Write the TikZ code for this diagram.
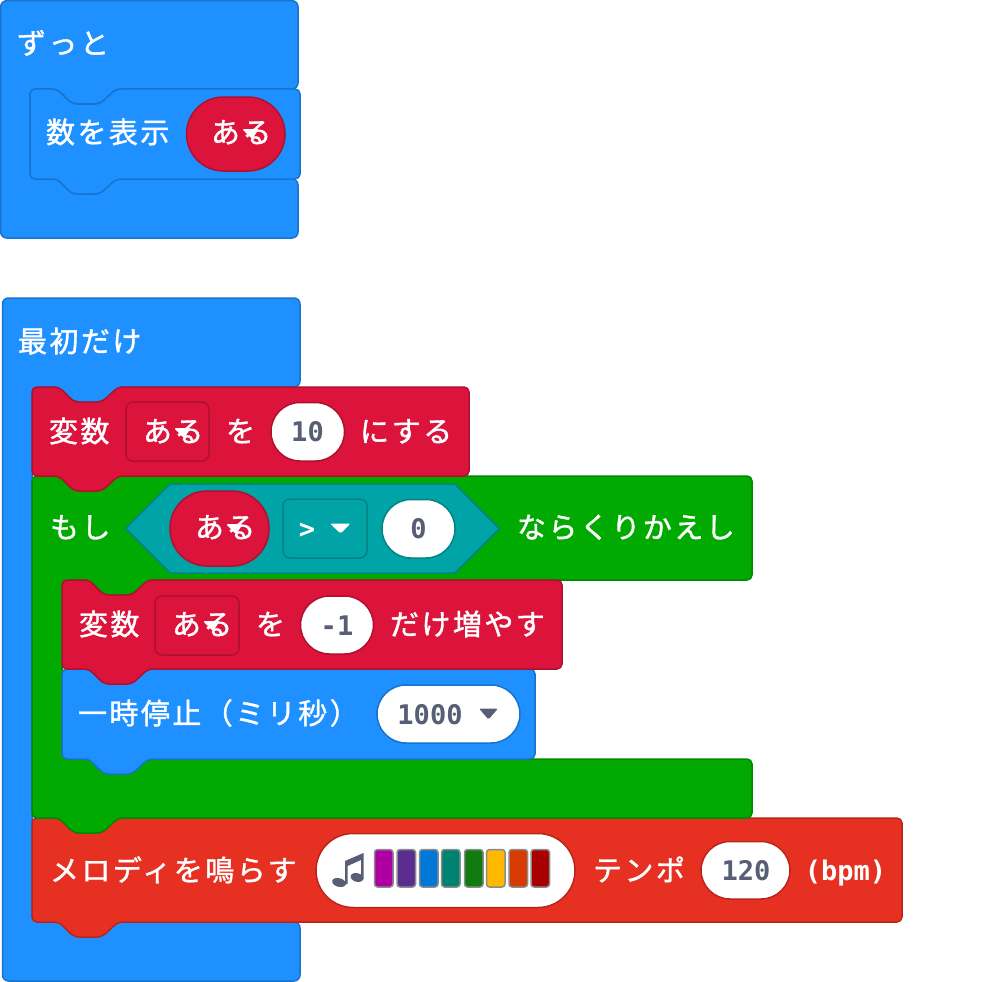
\documentclass[tikz,border=0pt]{standalone}
\usepackage{fontspec}
\newfontfamily\jpfont[LetterSpace=8.5,FakeBold=1.3]{Noto Sans CJK JP}
\newfontfamily\monofont{DejaVu Sans Mono Bold}
\definecolor{cblue}{HTML}{1E90FF}\definecolor{sblue}{HTML}{1873CC}
\definecolor{cred}{HTML}{DC143C}\definecolor{sred}{HTML}{B0102F}
\definecolor{cgreen}{HTML}{00AA00}\definecolor{sgreen}{HTML}{008800}
\definecolor{cteal}{HTML}{00A4A6}\definecolor{steal}{HTML}{008385}
\definecolor{cmusic}{HTML}{E63022}\definecolor{smusic}{HTML}{B8261B}
\definecolor{ink}{HTML}{575E75}
\newcommand{\stmtpath}[4]{[rounded corners=5pt] (#1,#2+20) -- (#1,#2) -- (#1+27,#2) -- (#1+42,#2+15) -- (#1+70,#2+15) -- (#1+86,#2) -- (#3,#2) -- (#3,#4) -- (#1+86,#4) -- (#1+70,#4+15) -- (#1+42,#4+15) -- (#1+27,#4) -- (#1,#4) -- cycle}
% right, (unused), arm y2, arm y3, inner x
\newcommand{\armpart}[5]{(#1,#3) -- (#5+86,#3) -- (#5+70,#3+15) -- (#5+42,#3+15) -- (#5+27,#3) -- (#5,#3) -- (#5,#4) -- (#1,#4)}
\tikzset{
  jp/.style={anchor=west,inner sep=0pt,outer sep=0pt,text=white,text height=25.5pt,text depth=3.5pt,font=\jpfont\fontsize{29}{32}\selectfont},
  mono/.style={anchor=center,inner sep=0pt,outer sep=0pt,text height=19.7pt,text depth=0pt,text=ink,font=\monofont\fontsize{27}{30}\selectfont},
  bw/.style={line width=1.5pt},
  field/.style={rounded corners=7pt,bw},
  pill/.style={rounded corners=29pt,bw,fill=white,draw=#1},
  swatch/.style={rounded corners=3pt,draw=black!45,line width=1.5pt,fill=#1},
  drop/.style={fill=#1,rounded corners=1.5pt}
}
\begin{document}
\begin{tikzpicture}[x=1pt,y=-1pt]
\useasboundingbox (0,0) rectangle (999,982);
% ---------- forever hat
\draw[bw,fill=cblue,draw=sblue,rounded corners=6pt]
  (0.7,20) -- (0.7,0.7) -- (298,0.7) -- \armpart{298}{0}{89}{179}{30} -- (298,238) -- (0.7,238) -- cycle;
\draw[bw,fill=cblue,draw=sblue] \stmtpath{30}{89}{300}{179};
\node[jp] (forever) at (17,43) {ずっと};
\node[jp] (shownum) at (46,132) {数を表示};
\draw[bw,fill=cred,draw=sred,rounded corners=37pt] (186.5,97) rectangle (285,171);
\node[jp] (var1) at (211,132) {ある};
\fill[drop=white] (242,129) -- (259,129) -- (252,139) -- cycle;
% ---------- on start hat
\draw[bw,fill=cblue,draw=sblue,rounded corners=6pt]
  (2.5,320) -- (2.5,298) -- (300,298) -- \armpart{300}{0}{387}{922}{32} -- (300,981) -- (2.5,981) -- cycle;
\node[jp] (onstart) at (18,341) {最初だけ};
% ---------- melody
\draw[bw,fill=cmusic,draw=smusic] \stmtpath{32}{818}{902}{922};
\node[jp] (melody) at (50,870) {メロディを鳴らす};
\draw[pill=smusic,rounded corners=37pt] (316,833.5) rectangle (575,907.5);
\foreach \xx/\cc in {374.5/AE00A2,397/5C2D91,419.5/0078D7,441.5/008272,464.5/107C10,486.5/FFB900,509/D83B01,531/A80000}{
  \definecolor{tmpc}{HTML}{\cc}
  \draw[swatch=tmpc] (\xx,849.5) rectangle (\xx+18.5,887);
}
% note icon
\fill[ink] (345,861) -- (363.5,853) -- (363.5,879) -- (361,879) -- (361,860) -- (347.5,866) -- (347.5,884) -- (345,884) -- cycle;
\fill[ink,rotate around={-15:(339,882.5)}] (339,882.5) ellipse (7pt and 4.3pt);
\fill[ink,rotate around={-15:(357,877.5)}] (357,877.5) ellipse (6.5pt and 4.3pt);
\node[jp] (tempo) at (593,870) {テンポ};
\draw[pill=smusic] (701,841.5) rectangle (790,899);
\node[mono] (bpmval) at (746,871) {120};
\node[mono,text=white] (bpm) at (845.5,871) {(bpm)};
% ---------- repeat while C-block
\draw[bw,fill=cgreen,draw=sgreen,rounded corners=5pt]
  (32,500) -- (32,476) -- (752,476) -- \armpart{752}{0}{580}{759}{62} -- (752,818) -- (118,818) -- (102,833) -- (74,833) -- (59,818) -- (32,818) -- cycle;
\node[jp] (if) at (50,527) {もし};
\draw[bw,fill=cteal,draw=steal] (125.5,528.5) -- (170,484) -- (455,484) -- (499.5,528.5) -- (455,573) -- (170,573) -- cycle;
\draw[bw,fill=cred,draw=sred,rounded corners=37pt] (170,491) rectangle (269,566);
\node[jp] (var2) at (195,527) {ある};
\fill[drop=white] (226,524) -- (243,524) -- (236,534) -- cycle;
\draw[field,fill=cteal,draw=steal] (283,499) rectangle (367,558);
\node[mono,text=white] (gt) at (307,529) {>};
\fill[drop=white] (330,523.5) -- (350.5,523.5) -- (340.5,533.5) -- cycle;
\draw[pill=steal] (382,499.5) rectangle (455,558);
\node[mono] (zero) at (418.5,529) {0};
\node[jp] (repeat) at (517,527) {ならくりかえし};
% ---------- pause
\draw[bw,fill=cblue,draw=sblue] \stmtpath{62}{669}{535}{759};
\node[jp] (pausetxt) at (78,713) {一時停止（ミリ秒）};
\draw[pill=sblue] (377,685) rectangle (520,743);
\node[mono] (ms) at (430,714.5) {1000};
\fill[drop=ink] (479,708.5) -- (498,708.5) -- (488.5,719.5) -- cycle;
% ---------- change
\draw[bw,fill=cred,draw=sred] \stmtpath{62}{580}{562}{669};
\node[jp] (chg1) at (79,624) {変数};
\draw[field,fill=cred,draw=sred] (155,596) rectangle (239,655);
\node[jp] (var3) at (172,624) {ある};
\fill[drop=white] (203,621) -- (220,621) -- (213,631) -- cycle;
\node[jp] (chg2) at (256,624) {を};
\draw[pill=sred] (300.5,596) rectangle (373.5,654);
\node[mono] (minus) at (337,625.5) {-1};
\node[jp] (chg3) at (390,624) {だけ増やす};
% ---------- set
\draw[bw,fill=cred,draw=sred] \stmtpath{32}{387}{469}{476};
\node[jp] (set1) at (49,431) {変数};
\draw[field,fill=cred,draw=sred] (126,402) rectangle (209,461);
\node[jp] (var4) at (143,431) {ある};
\fill[drop=white] (174,428) -- (191,428) -- (184,438) -- cycle;
\node[jp] (set2) at (226,431) {を};
\draw[pill=sred] (271,402.5) rectangle (344.5,461);
\node[mono] (ten) at (307.5,432) {10};
\node[jp] (set3) at (360,431) {にする};
\end{tikzpicture}
\end{document}
